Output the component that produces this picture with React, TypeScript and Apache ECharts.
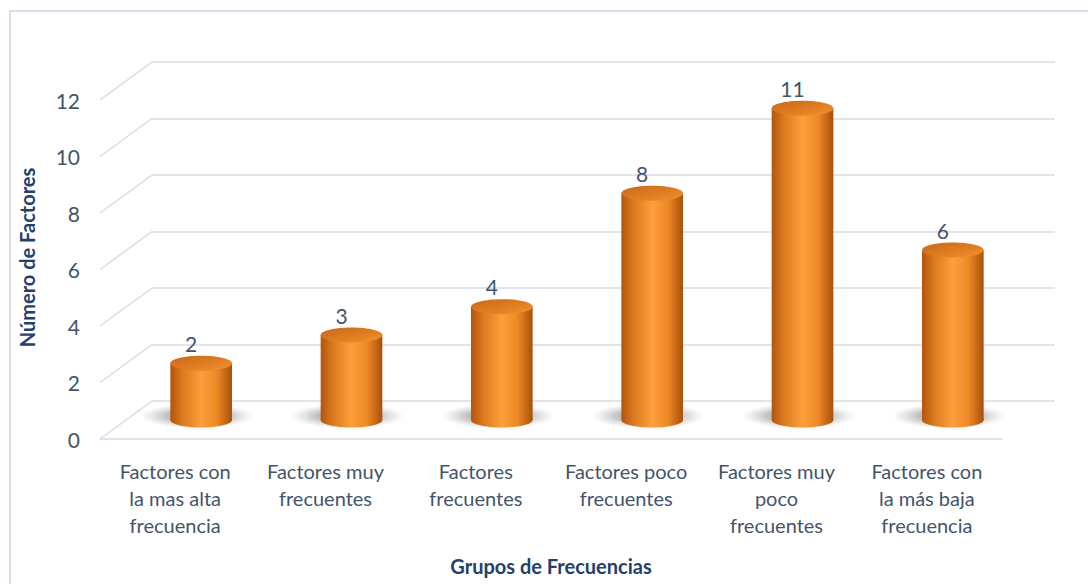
import React, { useEffect, useRef } from "react";
import * as echarts from "echarts";

const categories = [
  "Factores con\nla mas alta\nfrecuencia",
  "Factores muy\nfrecuentes",
  "Factores\nfrecuentes",
  "Factores poco\nfrecuentes",
  "Factores muy\npoco\nfrecuentes",
  "Factores con\nla más baja\nfrecuencia",
];
const values = [2, 3, 4, 8, 11, 6];
const yTicks = [0, 2, 4, 6, 8, 10, 12];
const yAxisTitle = "Número de Factores";
const xAxisTitle = "Grupos de Frecuencias";

const FONT = "Lato, 'Open Sans', sans-serif";
const GRID_COLOR = "#d3dcea";
const LABEL_COLOR = "#44546a";
const TITLE_COLOR = "#24406b";
const DX = 52;
const DY = 38;

export default function App() {
  const ref = useRef<HTMLDivElement>(null);
  useEffect(() => {
    if (!ref.current) return;
    const chart = echarts.init(ref.current, undefined, { renderer: "svg" });
    const option: any = {
      animation: false,
      backgroundColor: "#ffffff",
      graphic: [
        {
          type: "rect",
          shape: { x: 10, y: 11, width: 1100, height: 600 },
          style: { fill: "none", stroke: "#c8d6ec", lineWidth: 1.5 },
          silent: true,
        },
      ],
      grid: [
        { left: 152, right: 33, top: 62, bottom: 183 },
        { left: 100, right: 86, top: 100, bottom: 145 },
        { left: 126, right: 60, top: 80, bottom: 164 },
      ],
      xAxis: [
        { gridIndex: 0, type: "category", data: categories, show: false },
        {
          gridIndex: 1,
          type: "category",
          data: categories,
          axisLine: { show: true, lineStyle: { color: GRID_COLOR, width: 1.5 } },
          axisTick: { show: false },
          axisLabel: {
            interval: 0,
            margin: 18,
            color: LABEL_COLOR,
            fontSize: 20,
            lineHeight: 27,
            fontFamily: FONT,
          },
          name: xAxisTitle,
          nameLocation: "middle",
          nameGap: 117,
          nameTextStyle: { color: TITLE_COLOR, fontSize: 20, fontWeight: "bold", fontFamily: FONT },
        },
        { gridIndex: 2, type: "category", data: categories, show: false },
      ],
      yAxis: [
        {
          gridIndex: 0,
          type: "value",
          min: 0,
          max: 12,
          interval: 2,
          axisLine: { show: false },
          axisTick: { show: false },
          axisLabel: { show: false },
          splitLine: { show: true, lineStyle: { color: GRID_COLOR, width: 1.5 } },
        },
        {
          gridIndex: 1,
          type: "value",
          min: 0,
          max: 12,
          interval: 2,
          axisLine: { show: false },
          axisTick: { show: false },
          splitLine: { show: false },
          axisLabel: { margin: 20, color: LABEL_COLOR, fontSize: 21, fontFamily: FONT },
          name: yAxisTitle,
          nameLocation: "middle",
          nameGap: 63,
          nameRotate: 90,
          nameTextStyle: {
            color: TITLE_COLOR,
            fontSize: 20,
            fontWeight: "bold",
            fontFamily: FONT,
            padding: [0, 0, 0, 24],
          },
        },
        { gridIndex: 2, type: "value", min: 0, max: 12, interval: 2, show: false },
      ],
      series: [
        {
          type: "custom",
          xAxisIndex: 1,
          yAxisIndex: 1,
          silent: true,
          data: yTicks.map((v) => [0, v]),
          renderItem: (params: any, api: any) => {
            const v = api.value(1);
            const p = api.coord([0, v]);
            const x0 = params.coordSys.x;
            return {
              type: "line",
              shape: { x1: x0, y1: p[1], x2: x0 + DX, y2: p[1] - DY },
              style: { stroke: GRID_COLOR, lineWidth: 1.5 },
            };
          },
        },
        {
          type: "custom",
          xAxisIndex: 2,
          yAxisIndex: 2,
          data: values.map((v, i) => [i, v]),
          renderItem: (params: any, api: any) => {
            const idx = api.value(0);
            const val = api.value(1);
            const base = api.coord([idx, 0]);
            const top = api.coord([idx, val]);
            const band = api.size([1, 0])[0];
            const rx = band * 0.205;
            const ry = 7.5;
            const cx = base[0];
            const by = base[1];
            const ty = top[1];
            const bodyGrad = new echarts.graphic.LinearGradient(0, 0, 1, 0, [
              { offset: 0, color: "#b3540d" },
              { offset: 0.2, color: "#dc7a1f" },
              { offset: 0.5, color: "#fd9f3c" },
              { offset: 0.75, color: "#ee8a26" },
              { offset: 1, color: "#a94f0b" },
            ]);
            const topGrad = new echarts.graphic.LinearGradient(0, 0, 1, 1, [
              { offset: 0, color: "#c9681a" },
              { offset: 0.6, color: "#e27f22" },
              { offset: 1, color: "#f4952f" },
            ]);
            const shadowGrad = new echarts.graphic.RadialGradient(0.5, 0.5, 0.5, [
              { offset: 0, color: "rgba(90,90,90,0.75)" },
              { offset: 0.55, color: "rgba(120,120,120,0.45)" },
              { offset: 1, color: "rgba(160,160,160,0)" },
            ]);
            return {
              type: "group",
              children: [
                {
                  type: "ellipse",
                  shape: { cx: cx - 4, cy: by - 4, rx: rx + 26, ry: ry + 5 },
                  style: { fill: shadowGrad },
                },
                {
                  type: "rect",
                  shape: { x: cx - rx, y: ty, width: rx * 2, height: by - ty },
                  style: { fill: bodyGrad },
                },
                {
                  type: "ellipse",
                  shape: { cx, cy: by, rx, ry },
                  style: { fill: bodyGrad },
                },
                {
                  type: "ellipse",
                  shape: { cx, cy: ty, rx, ry },
                  style: { fill: topGrad },
                },
                {
                  type: "text",
                  style: {
                    text: String(val),
                    x: cx - 10,
                    y: ty - 20,
                    align: "center",
                    verticalAlign: "middle",
                    fill: LABEL_COLOR,
                    fontSize: 21,
                    fontFamily: FONT,
                  },
                },
              ],
            };
          },
        },
      ],
    };
    chart.setOption(option);
    return () => chart.dispose();
  }, []);
  return (
    <div
      ref={ref}
      style={{ position: "absolute", left: 0, top: 0, width: 1088, height: 584 }}
    />
  );
}
